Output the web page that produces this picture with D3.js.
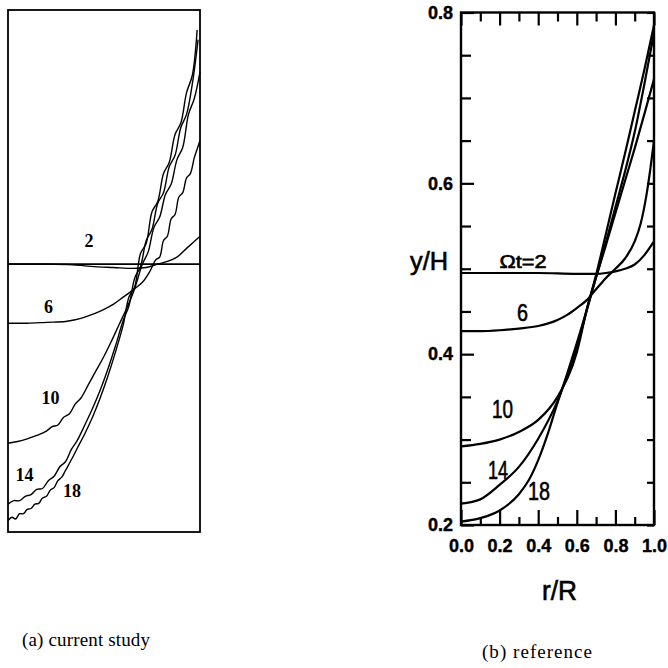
<!DOCTYPE html>
<html>
<head>
<meta charset="utf-8">
<script src="https://cdn.jsdelivr.net/npm/d3@7/dist/d3.min.js"></script>
<style>
  body { margin: 0; background: #fff; }
  svg { display: block; }
</style>
</head>
<body>
<svg id="chart" width="668" height="668"></svg>
<script>
// ---- data ----
// panel (a) current study : free surface y/H against r/R, labelled by Omega*t
const levelA = 0.508;
const rA2  = [0, 0.2, 0.34, 0.45, 0.55, 0.65, 0.72, 0.78, 0.83, 0.88, 0.93, 0.97, 1.0];
const yA2  = [0.508, 0.508, 0.507, 0.505, 0.504, 0.503, 0.504, 0.508, 0.511, 0.516, 0.526, 0.534, 0.54];
const rA6  = [0, 0.1, 0.2, 0.3, 0.35, 0.4, 0.45, 0.5, 0.55, 0.6, 0.65, 0.7, 0.74, 0.77, 0.79, 0.81, 0.83, 0.85, 0.87, 0.89, 0.91, 0.93, 0.95, 0.97, 0.985, 1.0];
const yA6  = [0.44, 0.44, 0.441, 0.442, 0.444, 0.447, 0.451, 0.456, 0.462, 0.47, 0.478, 0.487, 0.5, 0.513, 0.516, 0.535, 0.54, 0.56, 0.565, 0.585, 0.59, 0.607, 0.612, 0.63, 0.64, 0.65];
const rA10 = [0, 0.05, 0.1, 0.15, 0.2, 0.23, 0.26, 0.29, 0.32, 0.35, 0.38, 0.42, 0.46, 0.5, 0.54, 0.58, 0.62, 0.66, 0.7, 0.73, 0.76, 0.79, 0.82, 0.85, 0.88, 0.91, 0.94, 0.97, 1.0];
const yA10 = [0.302, 0.304, 0.307, 0.311, 0.316, 0.321, 0.323, 0.332, 0.336, 0.347, 0.354, 0.37, 0.386, 0.402, 0.42, 0.439, 0.458, 0.48, 0.508, 0.522, 0.55, 0.562, 0.588, 0.6, 0.628, 0.642, 0.68, 0.698, 0.729];
const rA14 = [0, 0.03, 0.06, 0.09, 0.12, 0.15, 0.18, 0.21, 0.24, 0.27, 0.3, 0.33, 0.36, 0.4, 0.44, 0.48, 0.52, 0.56, 0.6, 0.63, 0.66, 0.69, 0.72, 0.75, 0.78, 0.81, 0.84, 0.87, 0.9, 0.93, 0.96, 0.99];
const yA14 = [0.232, 0.236, 0.236, 0.241, 0.243, 0.249, 0.25, 0.259, 0.264, 0.275, 0.281, 0.295, 0.305, 0.323, 0.342, 0.363, 0.387, 0.414, 0.443, 0.46, 0.492, 0.505, 0.535, 0.548, 0.578, 0.59, 0.62, 0.633, 0.665, 0.68, 0.715, 0.766];
const rA18 = [0, 0.02, 0.04, 0.06, 0.08, 0.1, 0.12, 0.14, 0.16, 0.18, 0.2, 0.22, 0.24, 0.26, 0.28, 0.3, 0.33, 0.36, 0.4, 0.44, 0.48, 0.52, 0.56, 0.6, 0.63, 0.66, 0.69, 0.72, 0.75, 0.78, 0.81, 0.84, 0.87, 0.9, 0.93, 0.96, 0.985];
const yA18 = [0.213, 0.217, 0.215, 0.221, 0.221, 0.226, 0.227, 0.232, 0.233, 0.239, 0.241, 0.248, 0.251, 0.259, 0.263, 0.271, 0.283, 0.296, 0.313, 0.332, 0.354, 0.379, 0.407, 0.438, 0.47, 0.482, 0.52, 0.532, 0.568, 0.58, 0.612, 0.625, 0.657, 0.67, 0.705, 0.725, 0.777];

// panel (b) reference
const rB2  = [0, 0.2, 0.4, 0.6, 0.7, 0.75, 0.8, 0.85, 0.9, 0.95, 1.0];
const yB2  = [0.495, 0.495, 0.495, 0.494, 0.494, 0.495, 0.497, 0.5, 0.505, 0.516, 0.532];
const rB6  = [0, 0.1, 0.2, 0.3, 0.4, 0.5, 0.55, 0.6, 0.65, 0.7, 0.75, 0.8, 0.85, 0.9, 0.93, 0.96, 0.98, 1.0];
const yB6  = [0.427, 0.427, 0.428, 0.43, 0.433, 0.44, 0.446, 0.454, 0.463, 0.476, 0.489, 0.5, 0.512, 0.532, 0.552, 0.585, 0.615, 0.65];
const rB10 = [0, 0.1, 0.2, 0.3, 0.4, 0.5, 0.6, 0.66, 0.7, 0.75, 0.8, 0.85, 0.9, 0.95, 1.0];
const yB10 = [0.292, 0.295, 0.3, 0.309, 0.323, 0.35, 0.402, 0.46, 0.49, 0.527, 0.565, 0.603, 0.641, 0.681, 0.722];
const rB14 = [0, 0.1, 0.2, 0.3, 0.4, 0.5, 0.6, 0.66, 0.7, 0.75, 0.8, 0.85, 0.9, 0.95, 1.0];
const yB14 = [0.225, 0.23, 0.247, 0.268, 0.301, 0.345, 0.408, 0.458, 0.49, 0.53, 0.572, 0.614, 0.66, 0.716, 0.776];
const rB18 = [0, 0.1, 0.2, 0.3, 0.35, 0.4, 0.45, 0.5, 0.55, 0.6, 0.66, 0.7, 0.75, 0.8, 0.854, 0.9, 0.95, 1.0];
const yB18 = [0.204, 0.208, 0.217, 0.236, 0.252, 0.276, 0.307, 0.343, 0.377, 0.413, 0.459, 0.493, 0.54, 0.588, 0.639, 0.684, 0.733, 0.785];

const xTicks = [0, 0.2, 0.4, 0.6, 0.8, 1.0];
const xMinor = [0.1, 0.3, 0.5, 0.7, 0.9];
const yTicks = [0.2, 0.4, 0.6, 0.8];
const yMinor = [0.25, 0.3, 0.35, 0.45, 0.5, 0.55, 0.65, 0.7, 0.75];

var svg = d3.select("#chart");
var pts = function(rs, ys) { return rs.map(function(r, i) { return [r, ys[i]]; }); };

// ---- panel (a) ----
var xa = d3.scaleLinear().domain([0, 1]).range([8, 200]);
var ya = d3.scaleLinear().domain([0.2, 0.8]).range([532, 10]);
var lineA = d3.line()
  .x(function(d) { return xa(d[0]); })
  .y(function(d) { return ya(d[1]); })
  .curve(d3.curveCatmullRom);

svg.append("rect")
  .attr("x", xa(0)).attr("y", ya(0.8))
  .attr("width", xa(1) - xa(0)).attr("height", ya(0.2) - ya(0.8))
  .attr("fill", "none").attr("stroke", "#000").attr("stroke-width", 1.8);

svg.append("line")
  .attr("x1", xa(0)).attr("x2", xa(1))
  .attr("y1", ya(levelA)).attr("y2", ya(levelA))
  .attr("stroke", "#000").attr("stroke-width", 1.8);

[[rA2, yA2], [rA6, yA6], [rA10, yA10], [rA14, yA14], [rA18, yA18]].forEach(function(s) {
  svg.append("path")
    .attr("d", lineA(pts(s[0], s[1])))
    .attr("fill", "none").attr("stroke", "#000").attr("stroke-width", 1.4);
});

var labA = [["2", 89, 247], ["6", 48.5, 313], ["10", 50.5, 404], ["14", 24.5, 481], ["18", 72, 497]];
labA.forEach(function(l) {
  svg.append("text")
    .attr("x", l[1]).attr("y", l[2])
    .attr("text-anchor", "middle")
    .style("font-family", "'Liberation Serif', 'DejaVu Serif', serif")
    .style("font-weight", "bold")
    .style("font-size", "18px")
    .text(l[0]);
});

// ---- panel (b) ----
var xb = d3.scaleLinear().domain([0, 1]).range([461, 654]);
var yb = d3.scaleLinear().domain([0.2, 0.8]).range([525, 12.5]);
var lineB = d3.line()
  .x(function(d) { return xb(d[0]); })
  .y(function(d) { return yb(d[1]); })
  .curve(d3.curveMonotoneX);

[[rB2, yB2], [rB6, yB6], [rB10, yB10], [rB14, yB14], [rB18, yB18]].forEach(function(s) {
  svg.append("path")
    .attr("d", lineB(pts(s[0], s[1])))
    .attr("fill", "none").attr("stroke", "#000").attr("stroke-width", 2.2);
});

var fmt = d3.format(".1f");
function styleAxis(g) {
  g.select(".domain").remove();
  g.selectAll(".tick line").attr("stroke", "#000").attr("stroke-width", 2.2);
  g.selectAll("text")
    .attr("fill", "#000")
    .attr("stroke", "#000").attr("stroke-width", 0.4)
    .style("font-family", "'Liberation Sans', Arial, sans-serif")
    .style("font-weight", "bold")
    .style("font-size", "18px");
}
// left
svg.append("g").attr("transform", "translate(" + xb(0) + ",0)")
  .call(d3.axisLeft(yb).tickValues(yTicks).tickSize(-13).tickSizeOuter(0).tickPadding(8).tickFormat(fmt))
  .call(styleAxis);
svg.append("g").attr("transform", "translate(" + xb(0) + ",0)")
  .call(d3.axisLeft(yb).tickValues(yMinor).tickSize(-10).tickSizeOuter(0).tickFormat(""))
  .call(styleAxis);
// right
svg.append("g").attr("transform", "translate(" + xb(1) + ",0)")
  .call(d3.axisRight(yb).tickValues(yTicks.concat(yMinor)).tickSize(-7).tickSizeOuter(0).tickFormat(""))
  .call(styleAxis);
// bottom
svg.append("g").attr("transform", "translate(0," + yb(0.2) + ")")
  .call(d3.axisBottom(xb).tickValues(xTicks).tickSize(-15).tickSizeOuter(0).tickPadding(14).tickFormat(fmt))
  .call(styleAxis);
svg.append("g").attr("transform", "translate(0," + yb(0.2) + ")")
  .call(d3.axisBottom(xb).tickValues(xMinor).tickSize(-8).tickSizeOuter(0).tickFormat(""))
  .call(styleAxis);
// top
svg.append("g").attr("transform", "translate(0," + yb(0.8) + ")")
  .call(d3.axisTop(xb).tickValues(xTicks).tickSize(-13).tickSizeOuter(0).tickFormat(""))
  .call(styleAxis);
svg.append("g").attr("transform", "translate(0," + yb(0.8) + ")")
  .call(d3.axisTop(xb).tickValues(xMinor).tickSize(-9).tickSizeOuter(0).tickFormat(""))
  .call(styleAxis);

svg.append("rect")
  .attr("x", xb(0)).attr("y", yb(0.8))
  .attr("width", xb(1) - xb(0)).attr("height", yb(0.2) - yb(0.8))
  .attr("fill", "none").attr("stroke", "#000").attr("stroke-width", 2.4);

function sansText(txt, x, y, size, len) {
  svg.append("text")
    .attr("x", x).attr("y", y)
    .attr("text-anchor", "middle")
    .attr("textLength", len).attr("lengthAdjust", "spacingAndGlyphs")
    .attr("stroke", "#000").attr("stroke-width", 0.6)
    .style("font-family", "'Liberation Sans', Arial, sans-serif")
    .style("font-size", size + "px")
    .text(txt);
}
sansText("\u03A9t=2", 523, 268, 18, 47);
sansText("6", 522.5, 321, 24, 11);
sansText("10", 502.5, 418, 25, 21);
sansText("14", 498, 479, 25, 20);
sansText("18", 539, 500, 25, 22);
sansText("y/H", 429, 270, 25, 38);
sansText("r/R", 559.5, 600, 27, 35);

// captions
function caption(txt, x, y, len) {
  svg.append("text").attr("x", x).attr("y", y)
    .attr("textLength", len).attr("lengthAdjust", "spacing")
    .style("font-family", "'Liberation Serif', 'DejaVu Serif', serif")
    .style("font-size", "19px")
    .text(txt);
}
caption("(a) current study", 22, 646, 128);
caption("(b) reference", 482, 658, 110);
</script>
</body>
</html>
